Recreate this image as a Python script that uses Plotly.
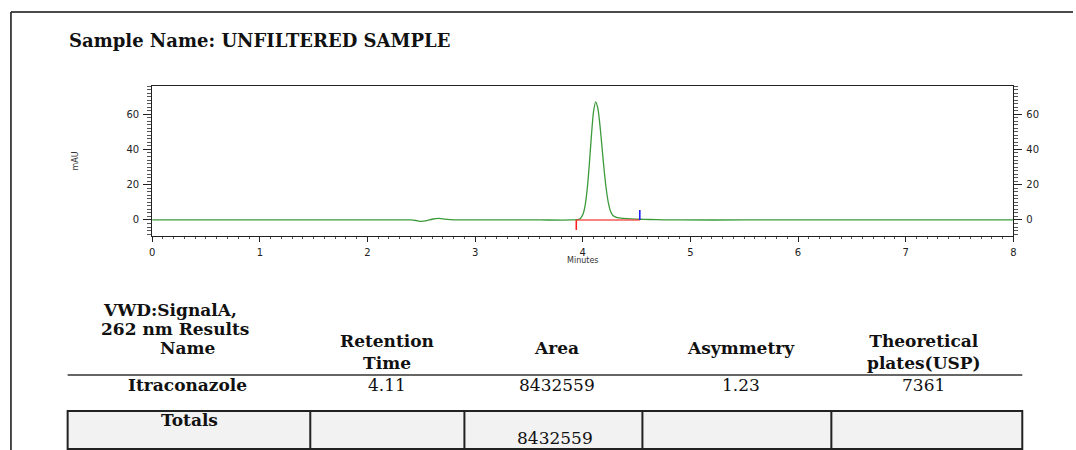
import plotly.graph_objects as go

# ---- chromatogram trace (minutes, mAU) ----
time_min = [0.0, 0.5, 1.0, 1.5, 2.0, 2.4, 2.45, 2.5, 2.55, 2.6, 2.66, 2.72, 2.8, 2.9,
            3.2, 3.6, 3.9, 3.96, 3.98, 4.0, 4.02, 4.04, 4.06, 4.08, 4.1, 4.12, 4.14,
            4.16, 4.18, 4.2, 4.22, 4.24, 4.26, 4.28, 4.32, 4.38, 4.45, 4.53, 4.62,
            4.75, 4.9, 5.5, 6.5, 7.5, 8.0]
signal_mau = [0.0, 0.0, 0.0, 0.0, 0.0, 0.0, -0.3, -0.8, -0.4, 0.4, 0.9, 0.5, 0.1, 0.0,
              0.0, 0.0, 0.0, 0.3, 1.0, 2.9, 7.6, 16.7, 30.7, 47.4, 61.4, 67.0, 63.4,
              53.6, 40.6, 27.5, 16.7, 9.1, 4.6, 2.5, 1.3, 0.9, 0.6, 0.4, 0.25,
              0.1, 0.0, 0.0, 0.0, 0.0, 0.0]

# integration events
peak_start = 3.94
peak_end = 4.53
event_mark = 5.7

x_ticks = [0, 1, 2, 3, 4, 5, 6, 7, 8]
y_ticks = [0, 20, 40, 60]

# ---- results table ----
sample_name = "UNFILTERED SAMPLE"
signal_title = ["VWD:SignalA,", "262 nm Results"]
col_heads = [["Name"], ["Retention", "Time"], ["Area"], ["Asymmetry"],
             ["Theoretical", "plates(USP)"]]
row_values = ["Itraconazole", "4.11", "8432559", "1.23", "7361"]
total_area = "8432559"

W, H = 1076, 450


def px(x):
    return x / W


def py(y):
    return 1 - y / H


fig = go.Figure()

# signal trace, baseline and start/end event marks
fig.add_trace(go.Scatter(x=time_min, y=signal_mau, mode="lines",
                         line=dict(color="#3a9a3a", width=1.3, shape="spline", smoothing=0.6),
                         hoverinfo="skip"))
fig.add_trace(go.Scatter(x=[peak_start, peak_end], y=[0, 0], mode="lines",
                         line=dict(color="rgba(245,60,60,0.85)", width=1.4),
                         hoverinfo="skip"))
fig.add_trace(go.Scatter(x=[peak_start, peak_start], y=[0, -event_mark], mode="lines",
                         line=dict(color="#ff2020", width=1.6), hoverinfo="skip"))
fig.add_trace(go.Scatter(x=[peak_end, peak_end], y=[0, event_mark], mode="lines",
                         line=dict(color="#2020ff", width=1.6), hoverinfo="skip"))

yrange = [-9.1, 76.0]
tickfont = dict(family="DejaVu Sans", size=10, color="#222")

axis_common = dict(showgrid=False, zeroline=False, showline=True, linecolor="#222",
                   linewidth=1, ticks="outside", tickcolor="#222", tickfont=tickfont)

fig.update_layout(
    width=W, height=H,
    margin=dict(l=0, r=0, t=0, b=0),
    paper_bgcolor="white", plot_bgcolor="white",
    showlegend=False,
    xaxis=dict(domain=[px(150), px(1016)], range=[0, 8], tickvals=x_ticks,
               mirror=True, ticklen=5, ticklabelstandoff=2,
               minor=dict(dtick=0.1, ticks="outside", ticklen=2, tickcolor="#555"),
               **axis_common),
    yaxis=dict(domain=[py(236), py(86)], range=yrange, tickvals=y_ticks,
               ticklen=8, ticklabelstandoff=2,
               minor=dict(dtick=2, ticks="outside", ticklen=4, tickcolor="#555"),
               **axis_common),
    yaxis2=dict(domain=[py(236), py(86)], range=yrange, tickvals=y_ticks,
                overlaying="y", side="right", anchor="x",
                ticklen=8, ticklabelstandoff=2,
                minor=dict(dtick=2, ticks="outside", ticklen=4, tickcolor="#555"),
                **axis_common),
)
# right-hand signal axis
fig.add_trace(go.Scatter(x=[0], y=[0], yaxis="y2", mode="lines",
                         line=dict(width=0), hoverinfo="skip"))

serif = "DejaVu Serif"
ann = []


def text(x, y, s, size=17, bold=True, anchor="center", fam=serif, color="#111", angle=0):
    ann.append(dict(x=px(x), y=py(y), xref="paper", yref="paper", showarrow=False,
                    text=f"<b>{s}</b>" if bold else s, xanchor=anchor, yanchor="middle",
                    align="center", textangle=angle,
                    font=dict(family=fam, size=size, color=color)))


text(64, 40, f"Sample Name: {sample_name}", size=18, anchor="left")
text(583, 260, "Minutes", size=8, bold=False, fam="DejaVu Sans", color="#333")
text(72, 161, "mAU", size=8, bold=False, fam="DejaVu Sans", color="#333", angle=-90)

text(99, 310, signal_title[0], anchor="left")
text(97, 329, signal_title[1], anchor="left")

col_x = [186, 386, 557, 742, 926]
for cx, head in zip(col_x, col_heads):
    if len(head) == 1:
        text(cx, 348, head[0])
    else:
        text(cx, 352, "<br>".join(f"<b>{h}</b>" for h in head), bold=False)

for i, (cx, v) in enumerate(zip(col_x, row_values)):
    text(cx, 385, v, bold=(i == 0))

text(188, 420, "Totals")
text(555, 438, total_area, bold=False)

shapes = [
    # page frame
    dict(type="line", xref="paper", yref="paper", x0=px(8), x1=1, y0=py(12), y1=py(12),
         line=dict(color="#111", width=1.5)),
    dict(type="line", xref="paper", yref="paper", x0=px(8), x1=px(8), y0=py(12), y1=0,
         line=dict(color="#111", width=1.5)),
    # table header rule
    dict(type="line", xref="paper", yref="paper", x0=px(65), x1=px(1025), y0=py(375), y1=py(375),
         line=dict(color="#333", width=1.5)),
    # totals row box
    dict(type="rect", xref="paper", yref="paper", x0=px(65), x1=px(1025), y0=py(411), y1=py(449),
         fillcolor="#f2f2f2", line=dict(color="#222", width=2), layer="below"),
]
for vx in [309, 464, 643, 833]:
    shapes.append(dict(type="line", xref="paper", yref="paper", x0=px(vx), x1=px(vx),
                       y0=py(411), y1=py(449), line=dict(color="#222", width=2)))

fig.update_layout(annotations=ann, shapes=shapes)
fig.write_html("out.html")
